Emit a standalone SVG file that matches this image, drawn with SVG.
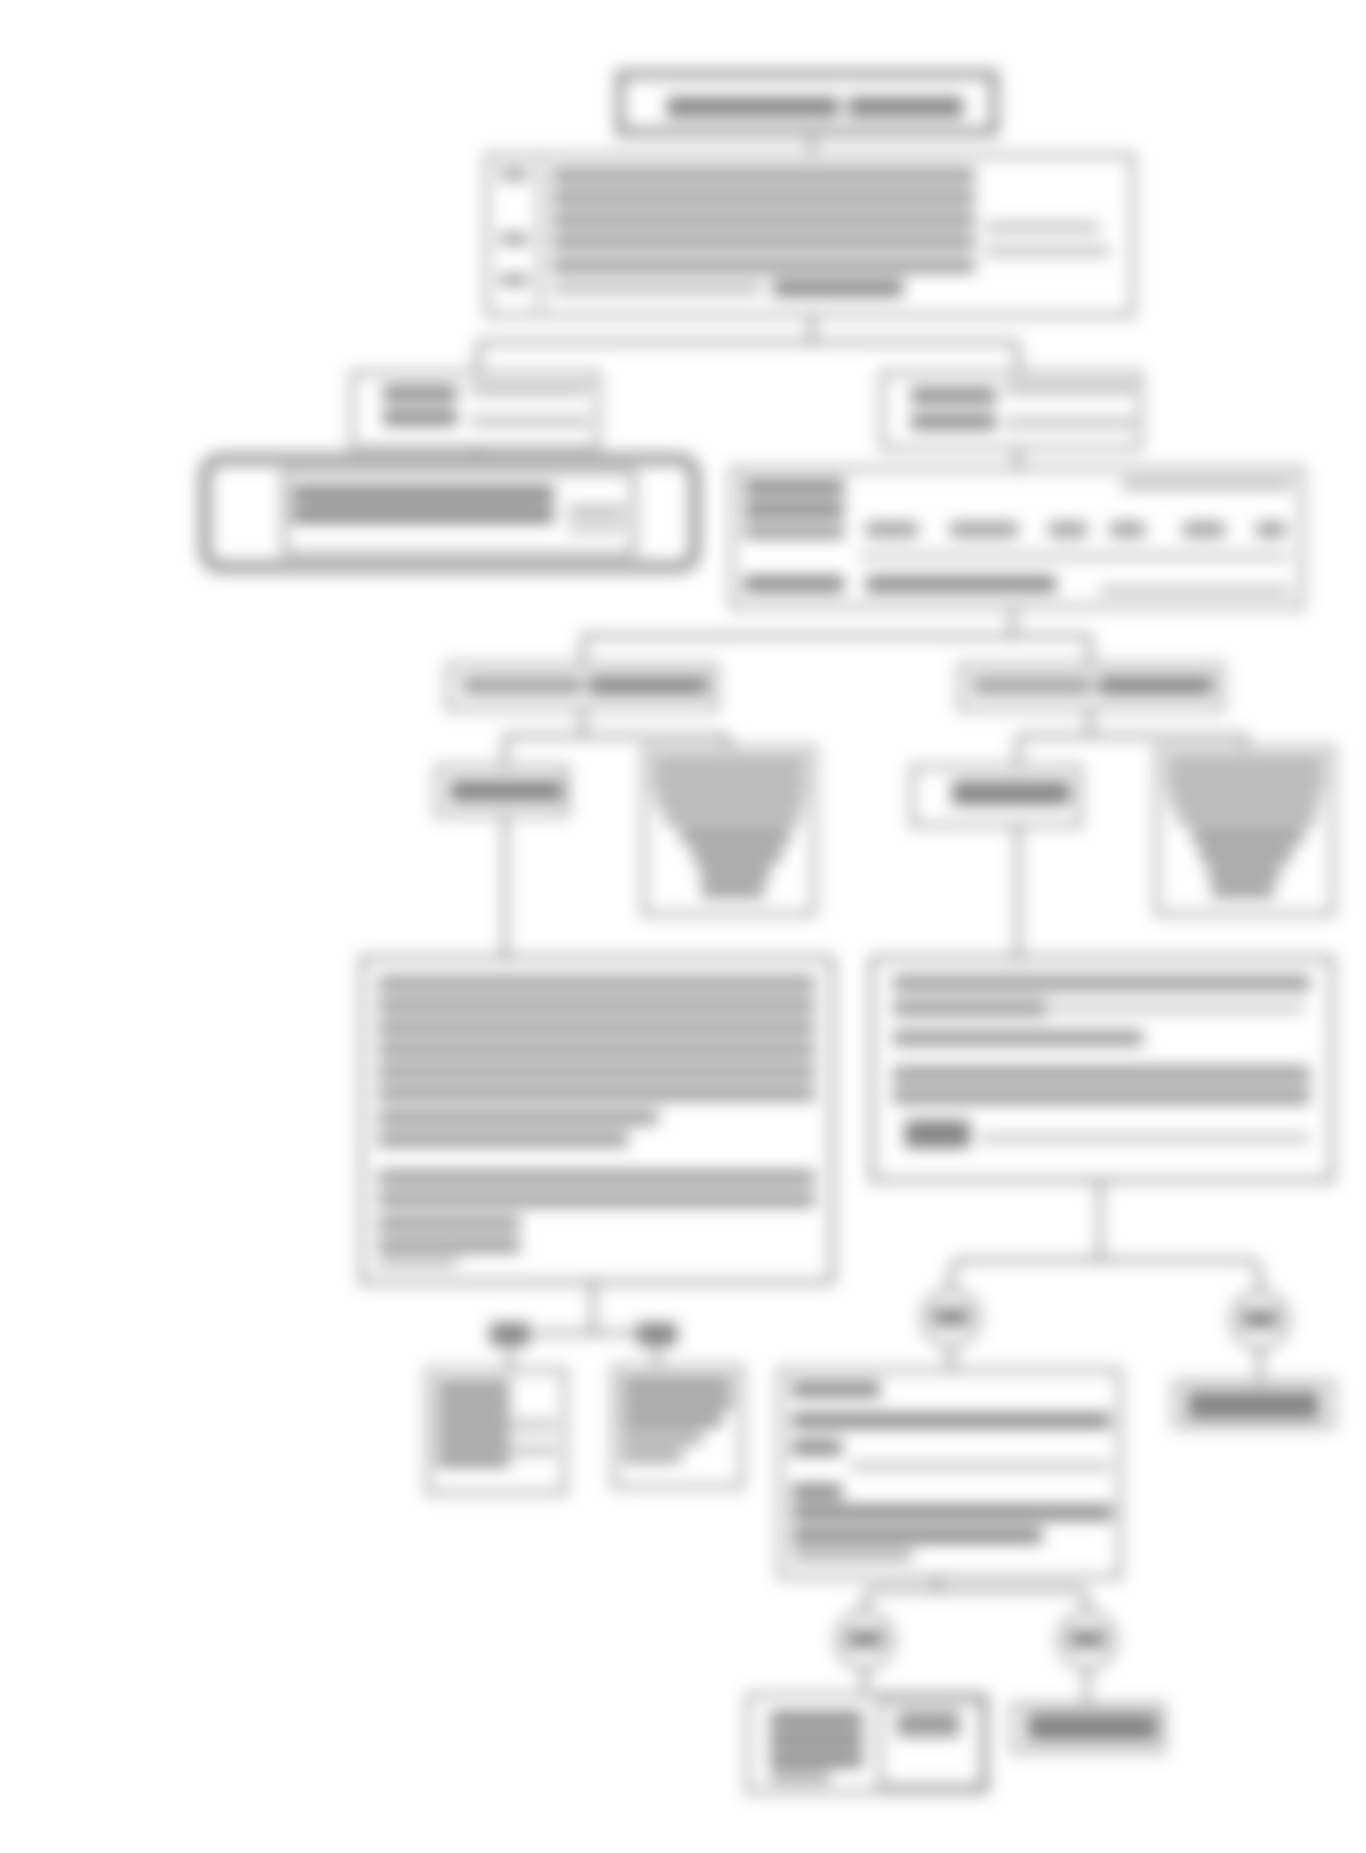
<svg xmlns="http://www.w3.org/2000/svg" width="1366" height="1853" viewBox="0 0 1366 1853">
<defs>
<filter id="soft" x="-5%" y="-5%" width="110%" height="110%"><feGaussianBlur stdDeviation="8"/></filter>
</defs>
<style>
.b{fill:none;stroke:#666666;stroke-width:3.5}
.bl{fill:none;stroke:#7c7c7c;stroke-width:3.5}
.ring{fill:none;stroke:#a0a0a0;stroke-width:13}
.t{fill:#9c9c9c}
.td{fill:#838383}
.tl{fill:#bcbcbc}
.w{fill:none;stroke:#666666;stroke-width:3.5}
</style>
<rect width="1366" height="1853" fill="#ffffff"/>
<g filter="url(#soft)">
<g id="connectors">
<path class="w" d="M812,132V155"/>
<path class="w" d="M812,315V342M478,342H1018M478,342V373M1018,342V373"/>
<path class="w" d="M478,448V457M1018,448V469"/>
<path class="w" d="M1013,607V636M583,636H1090M583,636V665M1090,636V665"/>
<path class="w" d="M583,709V736M505,736H728M505,736V767M728,736V748"/>
<path class="w" d="M1090,709V736M1018,736H1245M1018,736V767M1245,736V748"/>
<path class="w" d="M505,815V958M1018,825V958"/>
<path class="w" d="M593,1282V1333M535,1333H635M510,1345V1370M657,1345V1367"/>
<path class="w" d="M1100,1180V1260M951,1290V1275Q951,1260 966,1260H1245Q1260,1260 1260,1275V1292"/>
<path class="w" d="M951,1346V1370M1260,1348V1382"/>
<path class="w" d="M937,1577V1590M865,1612V1602Q865,1590 877,1590H1075Q1087,1590 1087,1602V1612"/>
<path class="w" d="M865,1668V1695M1087,1668V1705"/>
</g>
<g id="n1">
<rect x="620" y="74" width="374" height="58" fill="none" stroke="#949494" stroke-width="9"/>
<rect class="td" x="667" y="97" width="172" height="20"/>
<rect class="td" x="848" y="97" width="115" height="20"/>
</g>
<g id="n2">
<rect class="bl" x="487" y="155" width="646" height="160"/>
<path class="bl" d="M540,162V308"/>
<rect class="t" x="500" y="168" width="28" height="12"/>
<rect class="t" x="500" y="233" width="28" height="12"/>
<rect class="t" x="500" y="274" width="28" height="12"/>
<rect class="t" x="552" y="168" width="423" height="15"/>
<rect class="t" x="552" y="190" width="423" height="15"/>
<rect class="t" x="552" y="212" width="423" height="15"/>
<rect class="tl" x="985" y="222" width="115" height="10"/>
<rect class="t" x="552" y="234" width="423" height="15"/>
<rect class="tl" x="985" y="246" width="125" height="10"/>
<rect class="t" x="552" y="258" width="423" height="15"/>
<rect class="tl" x="552" y="282" width="210" height="12"/>
<rect class="td" x="773" y="280" width="130" height="16"/>
</g>
<g id="n3">
<rect class="bl" x="352" y="373" width="246" height="75"/>
<rect class="td" x="383" y="386" width="74" height="15"/>
<rect class="td" x="383" y="410" width="74" height="15"/>
<rect class="tl" x="470" y="383" width="120" height="12"/>
<rect class="tl" x="470" y="416" width="120" height="10"/>
</g>
<g id="n4">
<rect class="ring" x="205" y="459" width="490" height="108" rx="16"/>
<rect class="b" x="284" y="472" width="350" height="82"/>
<rect class="td" x="292" y="486" width="262" height="16"/>
<rect class="td" x="292" y="507" width="262" height="16"/>
<rect class="tl" x="568" y="505" width="58" height="12"/>
<rect class="tl" x="568" y="524" width="58" height="8"/>
</g>
<g id="n5">
<rect class="bl" x="882" y="373" width="258" height="75"/>
<rect class="td" x="911" y="388" width="85" height="15"/>
<rect class="td" x="911" y="414" width="85" height="15"/>
<rect class="tl" x="1005" y="382" width="130" height="12"/>
<rect class="tl" x="1005" y="418" width="130" height="10"/>
</g>
<g id="n6">
<rect class="bl" x="732" y="469" width="570" height="138"/>
<rect class="td" x="744" y="480" width="100" height="15"/>
<rect class="td" x="744" y="502" width="100" height="15"/>
<rect class="tl" x="1122" y="478" width="170" height="12"/>
<rect class="t" x="744" y="524" width="100" height="15"/>
<rect class="t" x="866" y="522" width="52" height="15"/>
<rect class="t" x="950" y="522" width="68" height="15"/>
<rect class="t" x="1049" y="522" width="38" height="15"/>
<rect class="t" x="1110" y="522" width="35" height="15"/>
<rect class="t" x="1183" y="522" width="42" height="15"/>
<rect class="t" x="1256" y="522" width="30" height="15"/>
<path class="bl" d="M860,556H1290"/>
<rect class="td" x="744" y="576" width="100" height="16"/>
<rect class="td" x="866" y="576" width="190" height="16"/>
<rect class="tl" x="1100" y="586" width="190" height="9"/>
</g>
<g id="n7">
<rect class="bl" x="448" y="665" width="268" height="44"/>
<rect class="t" x="462" y="677" width="120" height="17"/>
<rect class="td" x="588" y="676" width="120" height="19"/>
</g>
<g id="n8">
<rect class="bl" x="960" y="665" width="262" height="44"/>
<rect class="t" x="972" y="677" width="120" height="17"/>
<rect class="td" x="1098" y="676" width="115" height="19"/>
</g>
<g id="n9">
<rect class="bl" x="437" y="767" width="130" height="48"/>
<rect class="td" x="450" y="780" width="112" height="22"/>
</g>
<g id="n10">
<rect class="bl" x="644" y="748" width="170" height="166"/>
<rect class="t" x="652" y="758" width="154" height="12"/>
<rect class="t" x="652" y="776" width="154" height="12"/>
<rect class="t" x="656" y="794" width="148" height="12"/>
<rect class="t" x="664" y="812" width="136" height="12"/>
<rect class="td" x="680" y="830" width="110" height="12"/>
<rect class="td" x="692" y="848" width="90" height="12"/>
<rect class="td" x="700" y="866" width="70" height="12"/>
<rect class="td" x="702" y="884" width="62" height="12"/>
</g>
<g id="n11">
<rect class="bl" x="912" y="767" width="168" height="58"/>
<rect class="td" x="952" y="781" width="118" height="24"/>
</g>
<g id="n12">
<rect class="bl" x="1157" y="748" width="176" height="166"/>
<rect class="t" x="1166" y="758" width="158" height="12"/>
<rect class="t" x="1166" y="776" width="158" height="12"/>
<rect class="t" x="1170" y="794" width="150" height="12"/>
<rect class="t" x="1178" y="812" width="138" height="12"/>
<rect class="td" x="1192" y="830" width="112" height="12"/>
<rect class="td" x="1200" y="848" width="92" height="12"/>
<rect class="td" x="1208" y="866" width="72" height="12"/>
<rect class="td" x="1212" y="884" width="62" height="12"/>
</g>
<g id="n13">
<rect class="b" x="362" y="958" width="470" height="324"/>
<rect class="t" x="378" y="976" width="437" height="15"/>
<rect class="t" x="378" y="998" width="437" height="15"/>
<rect class="t" x="378" y="1020" width="437" height="15"/>
<rect class="t" x="378" y="1042" width="437" height="15"/>
<rect class="t" x="378" y="1064" width="437" height="15"/>
<rect class="t" x="378" y="1086" width="437" height="15"/>
<rect class="t" x="378" y="1110" width="280" height="15"/>
<rect class="t" x="378" y="1132" width="250" height="15"/>
<rect class="t" x="378" y="1170" width="437" height="15"/>
<rect class="t" x="378" y="1192" width="437" height="15"/>
<rect class="t" x="378" y="1216" width="142" height="15"/>
<rect class="t" x="378" y="1238" width="142" height="15"/>
<rect class="tl" x="378" y="1258" width="80" height="10"/>
</g>
<g id="n14">
<rect class="b" x="872" y="958" width="460" height="222"/>
<rect class="t" x="893" y="975" width="417" height="16"/>
<rect class="t" x="893" y="1000" width="154" height="16"/>
<rect class="tl" x="1050" y="1004" width="255" height="8"/>
<rect class="t" x="893" y="1030" width="250" height="16"/>
<rect class="t" x="893" y="1066" width="417" height="16"/>
<rect class="t" x="893" y="1088" width="417" height="16"/>
<rect class="td" x="905" y="1120" width="65" height="28"/>
<rect class="tl" x="980" y="1134" width="330" height="8"/>
</g>
<g id="n15">
<rect class="td" x="490" y="1323" width="40" height="22"/>
</g>
<g id="n16">
<rect class="td" x="637" y="1323" width="40" height="22"/>
</g>
<g id="n17">
<rect class="bl" x="428" y="1370" width="137" height="123"/>
<rect class="td" x="437" y="1382" width="73" height="12"/>
<rect class="td" x="437" y="1400" width="73" height="12"/>
<rect class="td" x="437" y="1418" width="73" height="12"/>
<rect class="td" x="437" y="1436" width="73" height="12"/>
<rect class="td" x="437" y="1454" width="73" height="12"/>
<rect class="tl" x="512" y="1420" width="45" height="10"/>
<rect class="tl" x="512" y="1445" width="45" height="10"/>
</g>
<g id="n18">
<rect class="bl" x="614" y="1367" width="128" height="120"/>
<rect class="td" x="622" y="1378" width="110" height="12"/>
<rect class="td" x="622" y="1396" width="110" height="12"/>
<rect class="td" x="622" y="1414" width="100" height="12"/>
<rect class="t" x="622" y="1432" width="80" height="12"/>
<rect class="t" x="622" y="1450" width="60" height="12"/>
</g>
<g id="n19">
<circle class="bl" cx="951" cy="1318" r="28"/>
<rect class="td" x="933" y="1308" width="36" height="18"/>
</g>
<g id="n20">
<circle class="bl" cx="1260" cy="1320" r="28"/>
<rect class="td" x="1242" y="1310" width="36" height="18"/>
</g>
<g id="n21">
<rect class="bl" x="780" y="1370" width="340" height="207"/>
<rect class="td" x="792" y="1382" width="88" height="15"/>
<rect class="td" x="792" y="1413" width="318" height="15"/>
<rect class="td" x="792" y="1440" width="50" height="15"/>
<rect class="tl" x="850" y="1462" width="260" height="8"/>
<rect class="td" x="792" y="1484" width="50" height="15"/>
<rect class="td" x="792" y="1505" width="320" height="15"/>
<rect class="td" x="792" y="1528" width="250" height="15"/>
<rect class="t" x="792" y="1550" width="120" height="10"/>
</g>
<g id="n22">
<rect class="bl" x="1175" y="1382" width="158" height="44"/>
<rect class="td" x="1187" y="1391" width="133" height="28"/>
</g>
<g id="n23">
<circle class="bl" cx="865" cy="1640" r="28"/>
<rect class="td" x="847" y="1630" width="36" height="18"/>
</g>
<g id="n24">
<circle class="bl" cx="1087" cy="1640" r="28"/>
<rect class="td" x="1069" y="1630" width="36" height="18"/>
</g>
<g id="n25">
<rect class="bl" x="748" y="1695" width="238" height="97"/>
<rect class="bl" x="880" y="1700" width="103" height="86"/>
<rect class="td" x="770" y="1712" width="93" height="15"/>
<rect class="td" x="770" y="1732" width="93" height="15"/>
<rect class="td" x="770" y="1752" width="93" height="15"/>
<rect class="t" x="770" y="1772" width="60" height="10"/>
<rect class="t" x="897" y="1711" width="63" height="26"/>
</g>
<g id="n26">
<rect class="bl" x="1013" y="1705" width="150" height="46"/>
<rect class="td" x="1027" y="1713" width="130" height="28"/>
</g>
</g>
</svg>
